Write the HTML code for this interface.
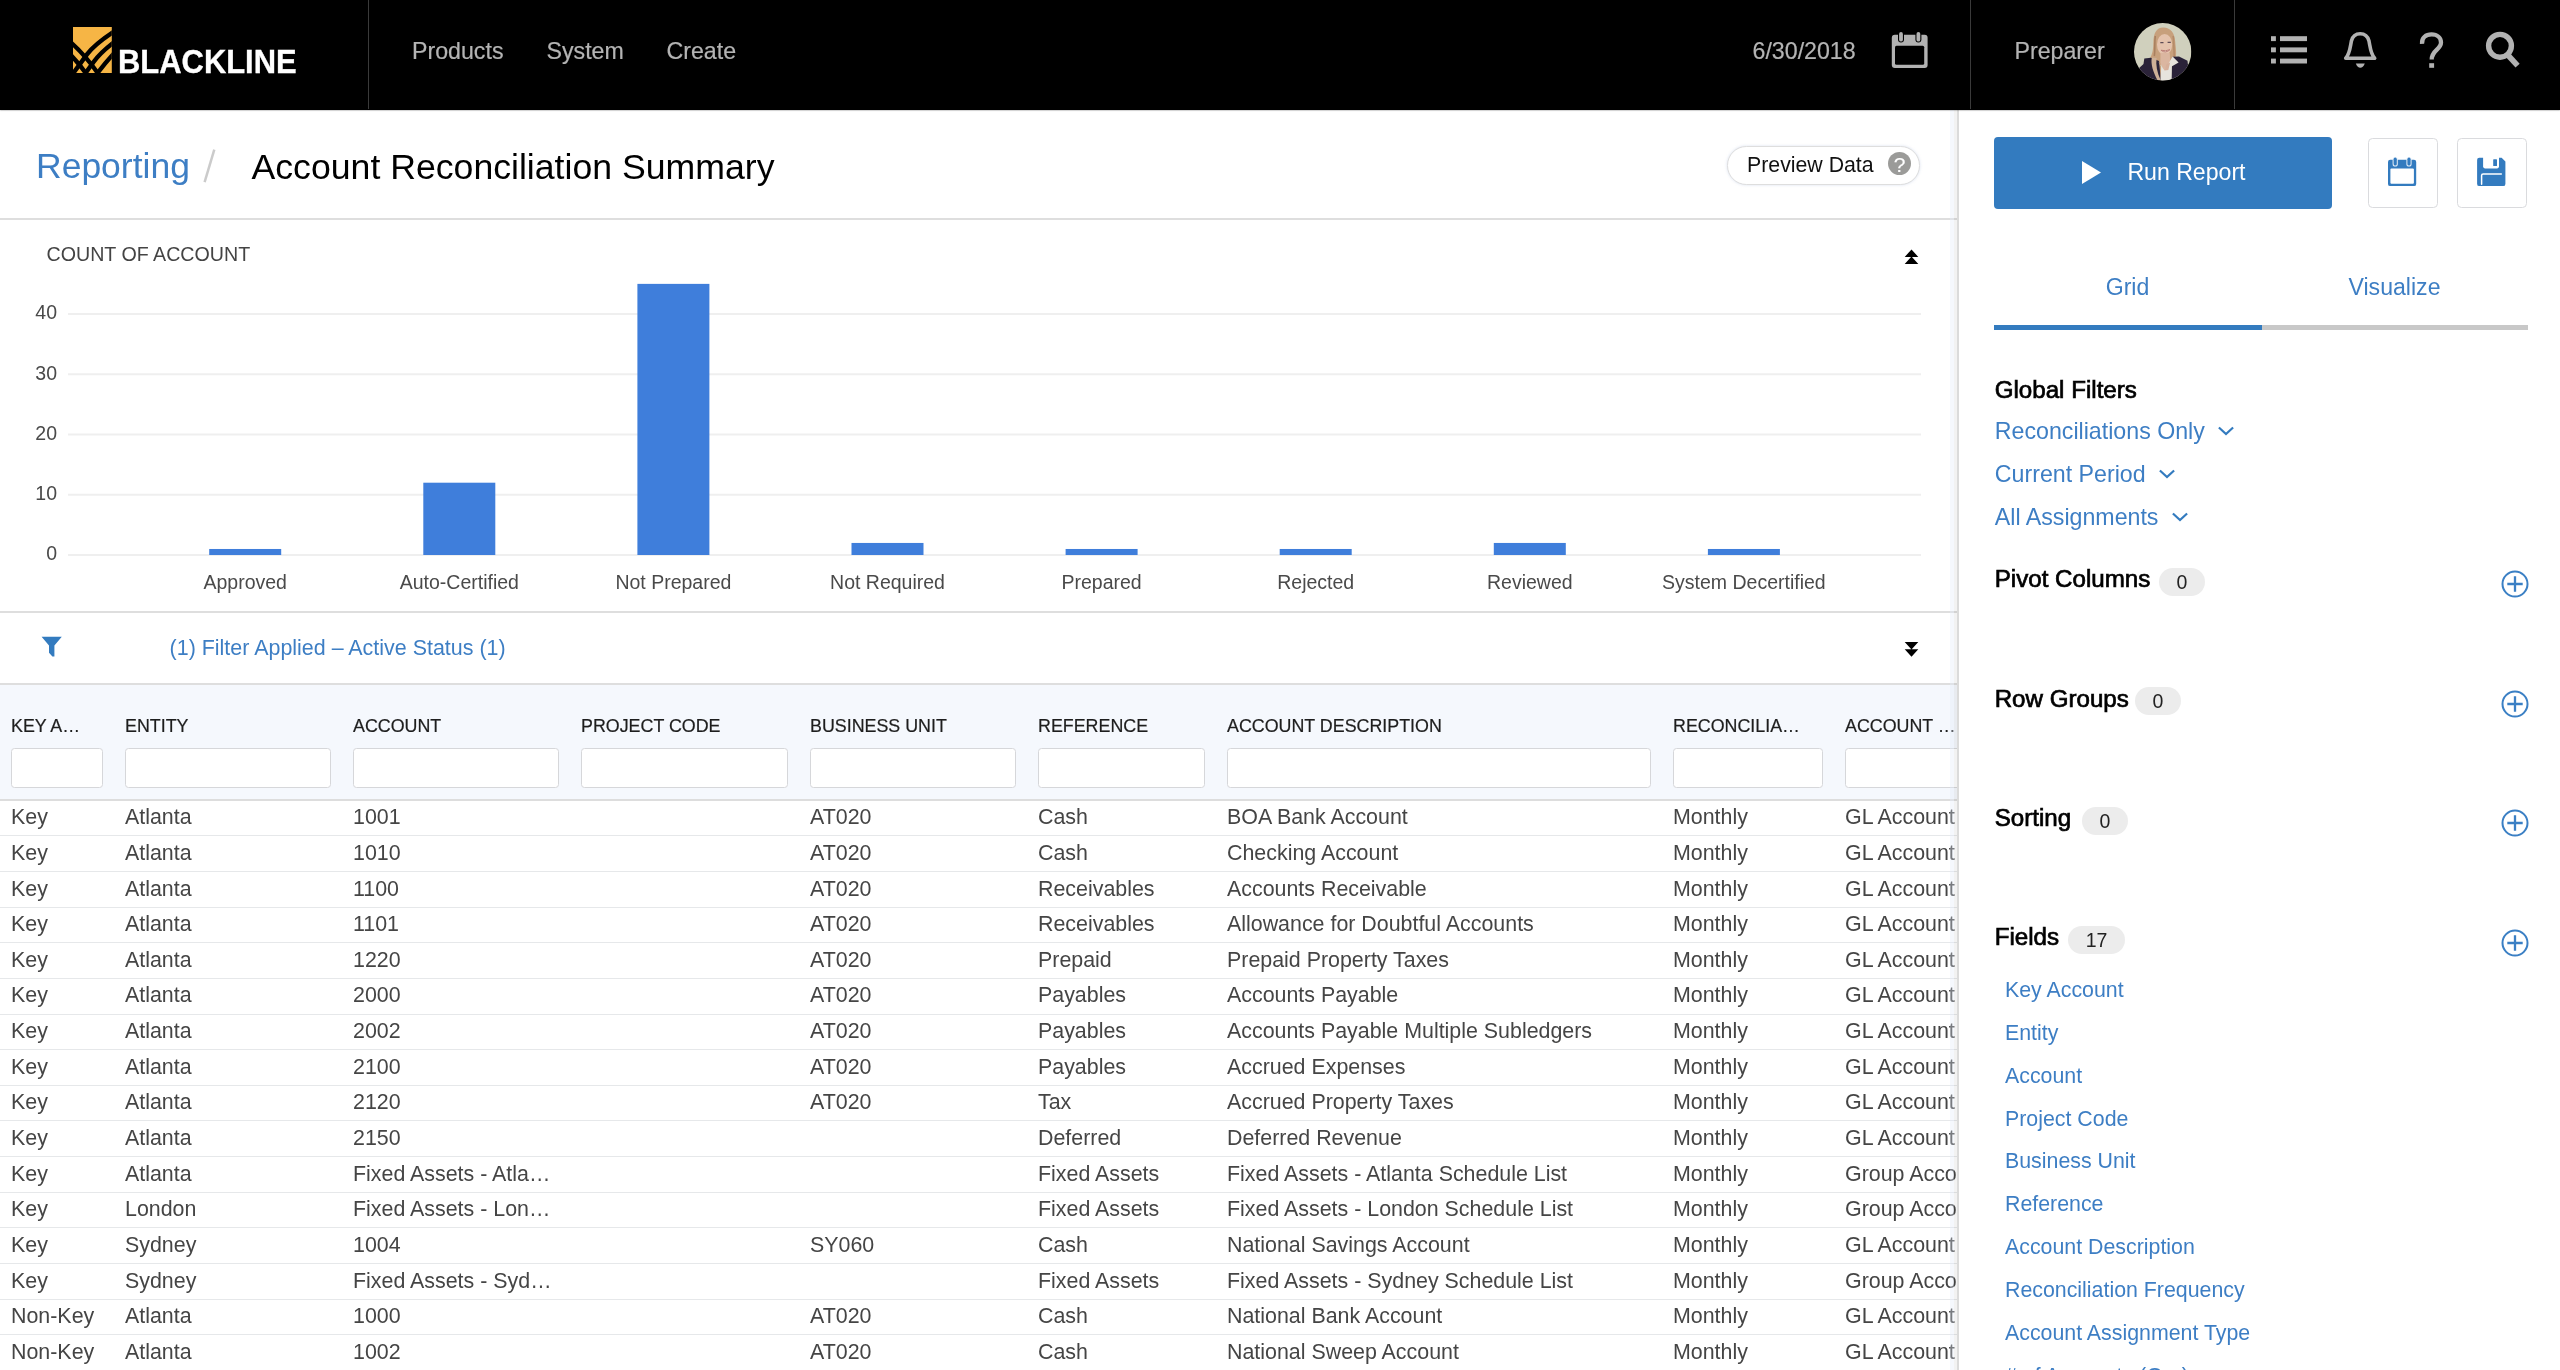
<!DOCTYPE html>
<html><head><meta charset="utf-8"><title>Account Reconciliation Summary</title>
<style>
*{box-sizing:border-box;margin:0;padding:0}
html,body{width:2560px;height:1370px;overflow:hidden;background:#fff;font-family:"Liberation Sans",sans-serif;}
body{position:relative}
.abs{position:absolute}
#top{position:absolute;left:0;top:0;width:2560px;height:110px;background:#000;z-index:5;box-shadow:0 .5px 1.5px rgba(0,0,0,.45)}
#top .div{position:absolute;top:0;width:1.6px;height:109px;background:#3a3a3a;margin-left:.2px}
#top .nav{position:absolute;top:37px;font-size:23.2px;line-height:28px;color:#b4b4b4;white-space:nowrap;-webkit-text-stroke:.2px #b4b4b4}
#top svg{position:absolute;overflow:visible}
#main{position:absolute;left:0;top:110px;width:1958px;height:1260px;background:#fff;overflow:hidden}
#main .in{position:absolute;left:0;top:-110px;width:1958px;height:1370px}
.bc1{position:absolute;left:36px;top:145.4px;font-size:35.5px;line-height:42px;color:#3d7ec4;white-space:nowrap}
.bcs{position:absolute;left:203.5px;top:145.5px;font-size:35.6px;line-height:42px;color:#cfcfcf}
.bc2{position:absolute;left:251.5px;top:145.6px;font-size:35.65px;line-height:42px;color:#000;white-space:nowrap}
.pill{position:absolute;left:1727.4px;top:146.2px;width:193px;height:38.8px;border:1.8px solid #dedede;border-radius:19.4px;background:#fff;box-shadow:0 0 3px rgba(150,170,210,.35)}
.pill span{position:absolute;left:18.6px;top:5.3px;font-size:21.3px;line-height:26px;color:#111;white-space:nowrap}
.pill i{position:absolute;left:159.8px;top:5.2px;width:23px;height:23px;border-radius:50%;background:#9b9b99;color:#fff;font-style:normal;font-size:21px;line-height:25.4px;text-align:center;-webkit-text-stroke:.15px #fff}
.hl{position:absolute;left:0;width:1958px;height:2px;background:#dedede}
.cap{position:absolute;left:46.5px;top:242.3px;font-size:19.65px;line-height:24px;color:#444;white-space:nowrap}
.ax{font-family:"Liberation Sans",sans-serif;font-size:19.5px;fill:#4a4a4a}
.flt{position:absolute;left:169.6px;top:634.7px;font-size:21.45px;line-height:26px;color:#3d7ec4;white-space:nowrap}
.thead{position:absolute;left:0;top:685px;width:1958px;height:115.6px;background:#f5f8fd;border-bottom:2px solid #dddddd}
.th{position:absolute;top:29.6px;font-size:17.85px;line-height:22px;color:#1e1e1e;-webkit-text-stroke:.2px #1e1e1e;white-space:nowrap;overflow:visible}
.inp{position:absolute;top:63px;height:40.4px;background:#fff;border:1.8px solid #d6d7da;border-radius:3.5px}
.tr{position:absolute;left:0;width:1958px;height:35.645px;border-bottom:1.5px solid #e6e8ea}
.tr span{position:absolute;top:3.6px;font-size:21.4px;line-height:26px;color:#454545;white-space:nowrap;overflow:hidden}
#side{position:absolute;left:1959px;top:110px;width:601px;height:1260px;background:#fff;overflow:hidden}
#side .in{position:absolute;left:-1959px;top:-110px;width:2560px;height:1370px}
.run{position:absolute;left:1994.4px;top:137.3px;width:337.4px;height:71.5px;background:#337bbf;border-radius:4px}
.run span{position:absolute;left:133px;top:21px;font-size:23.1px;line-height:28px;color:#fff;white-space:nowrap}
.ib{position:absolute;top:138px;width:70px;height:70px;border:1.7px solid #dadbde;border-radius:4.5px;background:#fff}
.tab{position:absolute;top:273px;font-size:23.1px;line-height:28px;color:#3d7ec4;white-space:nowrap;text-align:center;width:267px}
.sec{position:absolute;left:1994.7px;font-size:24.15px;line-height:30px;color:#000;white-space:nowrap;-webkit-text-stroke:0.7px #000}
.gf{position:absolute;left:1994.8px;font-size:23.2px;line-height:28px;color:#3d7ec4;white-space:nowrap}
.badge{position:absolute;height:28px;border-radius:14px;background:#ececec;font-size:19.5px;line-height:28px;color:#222;text-align:center}
.fld{position:absolute;left:2005px;font-size:21.35px;line-height:26px;color:#3d7ec4;white-space:nowrap}
.plus{position:absolute;left:2500.6px;width:28px;height:28px}
.chev{margin-left:13.5px;position:relative;top:-3px}
#wrap{position:absolute;left:0;top:0;width:2560px;height:1370px;will-change:transform}
.st1{position:absolute;left:1950px;top:110px;width:3.6px;height:1260px;background:rgba(225,235,250,.33)}
.st2{position:absolute;left:1953.6px;top:110px;width:3.7px;height:1260px;background:rgba(0,0,0,.05)}
.st3{position:absolute;left:1957.3px;top:110px;width:1.8px;height:1260px;background:#dbdbdb}

</style></head><body><div id="wrap">
<div id="top">
 <svg style="left:72.5px;top:27.2px" width="38.8" height="46" viewBox="0 0 38.8 46">
  <defs><clipPath id="lc"><rect x="0" y="0" width="38.8" height="46"/></clipPath></defs>
  <rect x="0" y="0" width="38.8" height="46" fill="#f6b545"/>
  <g clip-path="url(#lc)" fill="none" stroke="#000" stroke-width="4.4">
   <path d="M41,4.6 Q22,17 14,27.4 L0,46.6"/>
   <path d="M41,15.2 Q27,26 20.4,35.2 L12.2,46.6"/>
   <path d="M41,26.3 Q33,35 24.1,46.6"/>
   <path d="M-1.5,16 Q13,29 25.2,46.8"/>
   <path d="M-1.5,28.9 Q6,36.5 13.2,46.8"/>
  </g>
 </svg>
 <div class="abs" style="left:118.3px;top:42.3px;font-size:33px;line-height:40px;font-weight:bold;color:#fff;white-space:nowrap;transform-origin:0 0;transform:scaleX(.937);-webkit-text-stroke:.35px #fff">BLACKLINE</div>
 <div class="div" style="left:367.5px"></div>
 <div class="nav" style="left:412px">Products</div>
 <div class="nav" style="left:546.5px">System</div>
 <div class="nav" style="left:666.5px">Create</div>
 <div class="nav" style="left:1752.5px">6/30/2018</div>
 <!-- calendar -->
 <svg style="left:1888px;top:28px" width="44" height="44" viewBox="1888 28 44 44">
  <rect x="1891.8" y="34.8" width="35.8" height="33.2" rx="3" fill="#b2b2b2"/>
  <rect x="1895" y="45.7" width="29.2" height="19" rx="1.5" fill="#000"/>
  <rect x="1898" y="31.2" width="6" height="11.4" rx="3" fill="#000"/>
  <rect x="1915.4" y="31.2" width="6" height="11.4" rx="3" fill="#000"/>
  <rect x="1899.1" y="32" width="3.8" height="9.6" rx="1.9" fill="#b2b2b2"/>
  <rect x="1916.5" y="32" width="3.8" height="9.6" rx="1.9" fill="#b2b2b2"/>
 </svg>
 <div class="div" style="left:1969.5px"></div>
 <div class="nav" style="left:2014.5px">Preparer</div>
 <!-- avatar -->
 <svg style="left:2133.5px;top:23px" width="57.4" height="57.4" viewBox="0 0 57.4 57.4">
  <defs>
   <clipPath id="av"><circle cx="28.7" cy="28.7" r="28.7"/></clipPath>
   <filter id="bl" x="-10%" y="-10%" width="120%" height="120%"><feGaussianBlur stdDeviation="0.7"/></filter>
  </defs>
  <g clip-path="url(#av)">
   <rect width="57.4" height="57.4" fill="#d0d0bd"/>
   <g filter="url(#bl)">
    <path d="M29.3,4.6 C22,4.6 19.6,11 19.4,19 C19.2,27 18.5,32 14.5,37.5 L21,58 L27,58 L27,40 L40.5,36.5 C43.5,33 41.6,25 41.2,18.5 C40.7,10 36.5,4.6 29.3,4.6Z" fill="#c7a07c"/>
    <path d="M21.3,13 C20.3,20 21.3,27 20.3,33" stroke="#a9805f" stroke-width="1.6" fill="none"/>
    <path d="M39.2,13 C40,21 40,28 40.3,35" stroke="#b58b69" stroke-width="1.6" fill="none"/>
    <ellipse cx="30.6" cy="21.6" rx="7.6" ry="10.6" fill="#e4c3ad"/>
    <path d="M26.5,30 L35.8,30 L36.3,42 L30.5,48.5 L26.3,40Z" fill="#dbb6a0"/>
    <path d="M3,47 L9.5,41 L10.3,35.6 L17,34.8 L25,38 L27,58 L0,58Z" fill="#2a2438"/>
    <path d="M38.5,33.8 L45,33.6 L53.5,37.8 L56,58 L37.2,58Z" fill="#2a2438"/>
    <path d="M24,38.4 L30.5,47.5 L38.6,33.4 L44.6,39.4 L37.6,43.6 L37.6,58 L26.4,58 L27.3,43.8Z" fill="#e7e4dd"/>
    <path d="M30.5,47.5 L32.6,41 L36.2,39.6 L34.3,47Z" fill="#d7b09b"/>
    <path d="M17.8,34.6 C16.6,41 19,49 23.6,57.4 L26.8,57.4 C23,49.5 21.6,42 22.6,35Z" fill="#cdb098"/>
    <path d="M26.3,19.7 l3.2,0 M33.6,19.3 l3.2,0" stroke="#5d4c55" stroke-width="1.3" fill="none"/>
    <path d="M27,27.2 Q31.5,31 36,26.6 Q31.5,28.6 27,27.2Z" fill="#efe2dc" stroke="#bd8278" stroke-width="1"/>
   </g>
  </g>
 </svg>
 <div class="div" style="left:2233.5px"></div>
 <!-- list -->
 <svg style="left:2268px;top:30px" width="44" height="40" viewBox="2268 30 44 40">
  <g fill="#b2b2b2">
   <rect x="2271" y="36.2" width="4.9" height="4.9"/><rect x="2280" y="36.2" width="27" height="4.9"/>
   <rect x="2271" y="47.4" width="4.9" height="4.9"/><rect x="2280" y="47.4" width="27" height="4.9"/>
   <rect x="2271" y="58.6" width="4.9" height="4.9"/><rect x="2280" y="58.6" width="27" height="4.9"/>
  </g>
 </svg>
 <!-- bell -->
 <svg style="left:2340px;top:28px" width="42" height="44" viewBox="2340 28 42 44">
  <path d="M2345.7,58.2 C2349.8,54 2350.2,47 2351.4,41 C2352.7,36 2356,33.8 2360.2,33.8 C2364.4,33.8 2367.7,36 2369,41 C2370.2,47 2370.6,54 2374.7,58.2 Z" fill="none" stroke="#b2b2b2" stroke-width="3.6" stroke-linejoin="round"/>
  <path d="M2355.8,63.5 L2364.8,63.5 Q2363,67.8 2360.3,67.8 Q2357.6,67.8 2355.8,63.5Z" fill="#b2b2b2"/>
 </svg>
 <!-- question -->
 <svg style="left:2414px;top:28px" width="36" height="44" viewBox="2414 28 36 44">
  <path d="M2422,43.8 C2421.5,37.5 2426,34.4 2431.5,34.4 C2437.5,34.4 2441,38 2441,42.5 C2441,49.5 2431.7,50 2431.7,59.5" fill="none" stroke="#b2b2b2" stroke-width="4.3"/>
  <rect x="2429.2" y="63.2" width="4.9" height="4.6" fill="#b2b2b2"/>
 </svg>
 <!-- search -->
 <svg style="left:2480px;top:28px" width="44" height="44" viewBox="2480 28 44 44">
  <circle cx="2500" cy="45.8" r="11.4" fill="none" stroke="#b2b2b2" stroke-width="5.4"/>
  <path d="M2507.8,55 L2517.6,65.6" stroke="#b2b2b2" stroke-width="5.6" fill="none"/>
 </svg>
</div>
<div id="main"><div class="in">
<div class="bc1">Reporting</div><svg class="abs" style="left:200px;top:145px" width="20" height="42" viewBox="200 145 20 42"><path d="M214.3,149.6 L204.6,182.2" stroke="#cbcbcb" stroke-width="2.5" fill="none"/></svg><div class="bc2">Account Reconciliation Summary</div>
<div class="pill"><span>Preview Data</span><i>?</i></div>
<div class="hl" style="top:217.5px"></div>
<div class="cap">COUNT OF ACCOUNT</div>
<svg class="abs" style="left:1900px;top:245px" width="24" height="24" viewBox="1900 245 24 24"><path d="M1911.5,249.4 L1918.3,257 L1904.7,257Z M1911.5,256.6 L1918.3,264.1 L1904.7,264.1Z" fill="#000"/></svg>
<svg class="chart" width="1958" height="380" viewBox="0 0 1958 380" style="position:absolute;left:0;top:230px">
<rect x="68" y="324.00" width="1853" height="2" fill="#efefef"/>
<text x="57" y="330.40" text-anchor="end" class="ax">0</text>
<rect x="68" y="263.75" width="1853" height="2" fill="#efefef"/>
<text x="57" y="270.15" text-anchor="end" class="ax">10</text>
<rect x="68" y="203.50" width="1853" height="2" fill="#efefef"/>
<text x="57" y="209.90" text-anchor="end" class="ax">20</text>
<rect x="68" y="143.25" width="1853" height="2" fill="#efefef"/>
<text x="57" y="149.65" text-anchor="end" class="ax">30</text>
<rect x="68" y="83.00" width="1853" height="2" fill="#efefef"/>
<text x="57" y="89.40" text-anchor="end" class="ax">40</text>
<rect x="209.20" y="318.98" width="72" height="6.03" fill="#3f7edb"/>
<text x="245.20" y="358.80" text-anchor="middle" class="ax">Approved</text>
<rect x="423.30" y="252.70" width="72" height="72.30" fill="#3f7edb"/>
<text x="459.30" y="358.80" text-anchor="middle" class="ax">Auto-Certified</text>
<rect x="637.40" y="53.88" width="72" height="271.12" fill="#3f7edb"/>
<text x="673.40" y="358.80" text-anchor="middle" class="ax">Not Prepared</text>
<rect x="851.50" y="312.95" width="72" height="12.05" fill="#3f7edb"/>
<text x="887.50" y="358.80" text-anchor="middle" class="ax">Not Required</text>
<rect x="1065.60" y="318.98" width="72" height="6.03" fill="#3f7edb"/>
<text x="1101.60" y="358.80" text-anchor="middle" class="ax">Prepared</text>
<rect x="1279.70" y="318.98" width="72" height="6.03" fill="#3f7edb"/>
<text x="1315.70" y="358.80" text-anchor="middle" class="ax">Rejected</text>
<rect x="1493.80" y="312.95" width="72" height="12.05" fill="#3f7edb"/>
<text x="1529.80" y="358.80" text-anchor="middle" class="ax">Reviewed</text>
<rect x="1707.90" y="318.98" width="72" height="6.03" fill="#3f7edb"/>
<text x="1743.90" y="358.80" text-anchor="middle" class="ax">System Decertified</text>
</svg>
<div class="hl" style="top:611.1px"></div>
<svg class="abs" style="left:38px;top:632px" width="28" height="28" viewBox="38 632 28 28"><path d="M41.6,636.8 L61.8,636.8 L54.4,645.4 L54.4,656.5 L52.4,656.5 L49,652.8 L49,645.4Z" fill="#337bbf"/></svg>
<div class="flt">(1) Filter Applied – Active Status (1)</div>
<svg class="abs" style="left:1900px;top:638px" width="24" height="24" viewBox="1900 638 24 24"><path d="M1904.7,642 L1918.3,642 L1911.5,649.5Z M1904.7,649.2 L1918.3,649.2 L1911.5,656.7Z" fill="#000"/></svg>
<div class="hl" style="top:683px"></div>
<div class="thead">
<div class="th" style="left:11px;width:92px">KEY A…</div>
<div class="inp" style="left:11px;width:92px"></div>
<div class="th" style="left:125px;width:206px">ENTITY</div>
<div class="inp" style="left:125px;width:206px"></div>
<div class="th" style="left:353px;width:206px">ACCOUNT</div>
<div class="inp" style="left:353px;width:206px"></div>
<div class="th" style="left:581px;width:207px">PROJECT CODE</div>
<div class="inp" style="left:581px;width:207px"></div>
<div class="th" style="left:810px;width:206px">BUSINESS UNIT</div>
<div class="inp" style="left:810px;width:206px"></div>
<div class="th" style="left:1038px;width:167px">REFERENCE</div>
<div class="inp" style="left:1038px;width:167px"></div>
<div class="th" style="left:1227px;width:424px">ACCOUNT DESCRIPTION</div>
<div class="inp" style="left:1227px;width:424px"></div>
<div class="th" style="left:1673px;width:150px">RECONCILIA…</div>
<div class="inp" style="left:1673px;width:150px"></div>
<div class="th" style="left:1845px;width:154px">ACCOUNT …</div>
<div class="inp" style="left:1845px;width:154px"></div>
</div>
<div class="tr" style="top:800.65px">
<span style="left:11px;width:100px">Key</span>
<span style="left:125px;width:214px">Atlanta</span>
<span style="left:353px;width:214px">1001</span>
<span style="left:810px;width:214px">AT020</span>
<span style="left:1038px;width:175px">Cash</span>
<span style="left:1227px;width:432px">BOA Bank Account</span>
<span style="left:1673px;width:158px">Monthly</span>
<span style="left:1845px;width:162px">GL Account</span>
</div>
<div class="tr" style="top:836.29px">
<span style="left:11px;width:100px">Key</span>
<span style="left:125px;width:214px">Atlanta</span>
<span style="left:353px;width:214px">1010</span>
<span style="left:810px;width:214px">AT020</span>
<span style="left:1038px;width:175px">Cash</span>
<span style="left:1227px;width:432px">Checking Account</span>
<span style="left:1673px;width:158px">Monthly</span>
<span style="left:1845px;width:162px">GL Account</span>
</div>
<div class="tr" style="top:871.94px">
<span style="left:11px;width:100px">Key</span>
<span style="left:125px;width:214px">Atlanta</span>
<span style="left:353px;width:214px">1100</span>
<span style="left:810px;width:214px">AT020</span>
<span style="left:1038px;width:175px">Receivables</span>
<span style="left:1227px;width:432px">Accounts Receivable</span>
<span style="left:1673px;width:158px">Monthly</span>
<span style="left:1845px;width:162px">GL Account</span>
</div>
<div class="tr" style="top:907.59px">
<span style="left:11px;width:100px">Key</span>
<span style="left:125px;width:214px">Atlanta</span>
<span style="left:353px;width:214px">1101</span>
<span style="left:810px;width:214px">AT020</span>
<span style="left:1038px;width:175px">Receivables</span>
<span style="left:1227px;width:432px">Allowance for Doubtful Accounts</span>
<span style="left:1673px;width:158px">Monthly</span>
<span style="left:1845px;width:162px">GL Account</span>
</div>
<div class="tr" style="top:943.23px">
<span style="left:11px;width:100px">Key</span>
<span style="left:125px;width:214px">Atlanta</span>
<span style="left:353px;width:214px">1220</span>
<span style="left:810px;width:214px">AT020</span>
<span style="left:1038px;width:175px">Prepaid</span>
<span style="left:1227px;width:432px">Prepaid Property Taxes</span>
<span style="left:1673px;width:158px">Monthly</span>
<span style="left:1845px;width:162px">GL Account</span>
</div>
<div class="tr" style="top:978.88px">
<span style="left:11px;width:100px">Key</span>
<span style="left:125px;width:214px">Atlanta</span>
<span style="left:353px;width:214px">2000</span>
<span style="left:810px;width:214px">AT020</span>
<span style="left:1038px;width:175px">Payables</span>
<span style="left:1227px;width:432px">Accounts Payable</span>
<span style="left:1673px;width:158px">Monthly</span>
<span style="left:1845px;width:162px">GL Account</span>
</div>
<div class="tr" style="top:1014.52px">
<span style="left:11px;width:100px">Key</span>
<span style="left:125px;width:214px">Atlanta</span>
<span style="left:353px;width:214px">2002</span>
<span style="left:810px;width:214px">AT020</span>
<span style="left:1038px;width:175px">Payables</span>
<span style="left:1227px;width:432px">Accounts Payable Multiple Subledgers</span>
<span style="left:1673px;width:158px">Monthly</span>
<span style="left:1845px;width:162px">GL Account</span>
</div>
<div class="tr" style="top:1050.16px">
<span style="left:11px;width:100px">Key</span>
<span style="left:125px;width:214px">Atlanta</span>
<span style="left:353px;width:214px">2100</span>
<span style="left:810px;width:214px">AT020</span>
<span style="left:1038px;width:175px">Payables</span>
<span style="left:1227px;width:432px">Accrued Expenses</span>
<span style="left:1673px;width:158px">Monthly</span>
<span style="left:1845px;width:162px">GL Account</span>
</div>
<div class="tr" style="top:1085.81px">
<span style="left:11px;width:100px">Key</span>
<span style="left:125px;width:214px">Atlanta</span>
<span style="left:353px;width:214px">2120</span>
<span style="left:810px;width:214px">AT020</span>
<span style="left:1038px;width:175px">Tax</span>
<span style="left:1227px;width:432px">Accrued Property Taxes</span>
<span style="left:1673px;width:158px">Monthly</span>
<span style="left:1845px;width:162px">GL Account</span>
</div>
<div class="tr" style="top:1121.45px">
<span style="left:11px;width:100px">Key</span>
<span style="left:125px;width:214px">Atlanta</span>
<span style="left:353px;width:214px">2150</span>
<span style="left:1038px;width:175px">Deferred</span>
<span style="left:1227px;width:432px">Deferred Revenue</span>
<span style="left:1673px;width:158px">Monthly</span>
<span style="left:1845px;width:162px">GL Account</span>
</div>
<div class="tr" style="top:1157.10px">
<span style="left:11px;width:100px">Key</span>
<span style="left:125px;width:214px">Atlanta</span>
<span style="left:353px;width:214px">Fixed Assets - Atla…</span>
<span style="left:1038px;width:175px">Fixed Assets</span>
<span style="left:1227px;width:432px">Fixed Assets - Atlanta Schedule List</span>
<span style="left:1673px;width:158px">Monthly</span>
<span style="left:1845px;width:162px">Group Account</span>
</div>
<div class="tr" style="top:1192.74px">
<span style="left:11px;width:100px">Key</span>
<span style="left:125px;width:214px">London</span>
<span style="left:353px;width:214px">Fixed Assets - Lon…</span>
<span style="left:1038px;width:175px">Fixed Assets</span>
<span style="left:1227px;width:432px">Fixed Assets - London Schedule List</span>
<span style="left:1673px;width:158px">Monthly</span>
<span style="left:1845px;width:162px">Group Account</span>
</div>
<div class="tr" style="top:1228.39px">
<span style="left:11px;width:100px">Key</span>
<span style="left:125px;width:214px">Sydney</span>
<span style="left:353px;width:214px">1004</span>
<span style="left:810px;width:214px">SY060</span>
<span style="left:1038px;width:175px">Cash</span>
<span style="left:1227px;width:432px">National Savings Account</span>
<span style="left:1673px;width:158px">Monthly</span>
<span style="left:1845px;width:162px">GL Account</span>
</div>
<div class="tr" style="top:1264.04px">
<span style="left:11px;width:100px">Key</span>
<span style="left:125px;width:214px">Sydney</span>
<span style="left:353px;width:214px">Fixed Assets - Syd…</span>
<span style="left:1038px;width:175px">Fixed Assets</span>
<span style="left:1227px;width:432px">Fixed Assets - Sydney Schedule List</span>
<span style="left:1673px;width:158px">Monthly</span>
<span style="left:1845px;width:162px">Group Account</span>
</div>
<div class="tr" style="top:1299.68px">
<span style="left:11px;width:100px">Non-Key</span>
<span style="left:125px;width:214px">Atlanta</span>
<span style="left:353px;width:214px">1000</span>
<span style="left:810px;width:214px">AT020</span>
<span style="left:1038px;width:175px">Cash</span>
<span style="left:1227px;width:432px">National Bank Account</span>
<span style="left:1673px;width:158px">Monthly</span>
<span style="left:1845px;width:162px">GL Account</span>
</div>
<div class="tr" style="top:1335.33px">
<span style="left:11px;width:100px">Non-Key</span>
<span style="left:125px;width:214px">Atlanta</span>
<span style="left:353px;width:214px">1002</span>
<span style="left:810px;width:214px">AT020</span>
<span style="left:1038px;width:175px">Cash</span>
<span style="left:1227px;width:432px">National Sweep Account</span>
<span style="left:1673px;width:158px">Monthly</span>
<span style="left:1845px;width:162px">GL Account</span>
</div>
</div></div>
<div class="st1"></div><div class="st2"></div><div class="st3"></div>
<div id="side"><div class="in">
<div class="run"><svg class="abs" style="left:86px;top:22px" width="22" height="28" viewBox="0 0 22 28"><path d="M2,2 L21,13.5 L2,25Z" fill="#fff"/></svg><span>Run Report</span></div>
<div class="ib" style="left:2368px"><svg class="abs" style="left:16px;top:15px" width="34" height="34" viewBox="2386 155 34 34">
 <rect x="2389" y="160.7" width="28.2" height="26.4" rx="2.2" fill="#337bbf"/>
 <rect x="2391.4" y="169.5" width="23.5" height="15.2" rx="1" fill="#fff"/>
 <rect x="2393.6" y="158" width="5.2" height="9.6" rx="2.6" fill="#e8f0f8"/><rect x="2407.4" y="158" width="5.2" height="9.6" rx="2.6" fill="#e8f0f8"/>
 <rect x="2394.6" y="158.6" width="3.2" height="8" rx="1.6" fill="#337bbf"/><rect x="2408.4" y="158.6" width="3.2" height="8" rx="1.6" fill="#337bbf"/>
</svg></div>
<div class="ib" style="left:2457px"><svg class="abs" style="left:16px;top:15px" width="36" height="34" viewBox="2475 155 36 34">
 <path d="M2480.3,158.7 L2502.6,158.7 L2506.4,162.6 L2506.4,184.9 Q2506.4,187.1 2504.2,187.1 L2480.3,187.1 Q2478.1,187.1 2478.1,184.9 L2478.1,160.9 Q2478.1,158.7 2480.3,158.7Z" fill="#337bbf"/>
 <path d="M2484.1,158 L2500,158 L2500,167.6 Q2500,169.4 2498.2,169.4 L2485.9,169.4 Q2484.1,169.4 2484.1,167.6Z" fill="#fff"/>
 <rect x="2494.2" y="160.2" width="3.8" height="6.8" rx=".6" fill="#337bbf"/>
 <path d="M2502.3,175 L2484.2,175 Q2482.6,175 2482.6,176.6 L2482.6,185.3" fill="none" stroke="#fff" stroke-width="1.5" stroke-linecap="round"/>
</svg></div>
<div class="tab" style="left:1994px">Grid</div>
<div class="tab" style="left:2261px">Visualize</div>
<div class="abs" style="left:1994px;top:324.5px;width:534px;height:5px;background:#c8c8c8"></div>
<div class="abs" style="left:1994px;top:324.5px;width:268px;height:5px;background:#337bbf"></div>
<div class="sec" style="top:375px">Global Filters</div>
<div class="gf" style="top:417px">Reconciliations Only<svg class="chev" width="16" height="10" viewBox="0 0 16 10"><path d="M0.9,1.5 L8,8 L15.1,1.5" fill="none" stroke="#337bbf" stroke-width="2.2"/></svg></div>
<div class="gf" style="top:460px">Current Period<svg class="chev" width="16" height="10" viewBox="0 0 16 10"><path d="M0.9,1.5 L8,8 L15.1,1.5" fill="none" stroke="#337bbf" stroke-width="2.2"/></svg></div>
<div class="gf" style="top:503px">All Assignments<svg class="chev" width="16" height="10" viewBox="0 0 16 10"><path d="M0.9,1.5 L8,8 L15.1,1.5" fill="none" stroke="#337bbf" stroke-width="2.2"/></svg></div>
<div class="sec" style="top:564px">Pivot Columns</div><div class="badge" style="left:2159px;top:568px;width:46px">0</div>
<div class="sec" style="top:684px">Row Groups</div><div class="badge" style="left:2135px;top:687px;width:46px">0</div>
<div class="sec" style="top:803px">Sorting</div><div class="badge" style="left:2082px;top:807px;width:46px">0</div>
<div class="sec" style="top:922px">Fields</div><div class="badge" style="left:2068px;top:926px;width:57px">17</div>
<svg class="plus" style="top:570px" viewBox="0 0 28 28"><circle cx="14" cy="14" r="12.5" fill="none" stroke="#3a7fc4" stroke-width="2"/><path d="M14,6.3 V21.7 M6.3,14 H21.7" stroke="#3a7fc4" stroke-width="2.3" fill="none"/></svg>
<svg class="plus" style="top:689.5px" viewBox="0 0 28 28"><circle cx="14" cy="14" r="12.5" fill="none" stroke="#3a7fc4" stroke-width="2"/><path d="M14,6.3 V21.7 M6.3,14 H21.7" stroke="#3a7fc4" stroke-width="2.3" fill="none"/></svg>
<svg class="plus" style="top:809px" viewBox="0 0 28 28"><circle cx="14" cy="14" r="12.5" fill="none" stroke="#3a7fc4" stroke-width="2"/><path d="M14,6.3 V21.7 M6.3,14 H21.7" stroke="#3a7fc4" stroke-width="2.3" fill="none"/></svg>
<svg class="plus" style="top:928.5px" viewBox="0 0 28 28"><circle cx="14" cy="14" r="12.5" fill="none" stroke="#3a7fc4" stroke-width="2"/><path d="M14,6.3 V21.7 M6.3,14 H21.7" stroke="#3a7fc4" stroke-width="2.3" fill="none"/></svg>
<div class="fld" style="top:977.00px">Key Account</div>
<div class="fld" style="top:1019.87px">Entity</div>
<div class="fld" style="top:1062.74px">Account</div>
<div class="fld" style="top:1105.61px">Project Code</div>
<div class="fld" style="top:1148.48px">Business Unit</div>
<div class="fld" style="top:1191.35px">Reference</div>
<div class="fld" style="top:1234.22px">Account Description</div>
<div class="fld" style="top:1277.09px">Reconciliation Frequency</div>
<div class="fld" style="top:1319.96px">Account Assignment Type</div>
<div class="fld" style="top:1362.83px"># of Accounts (Grp)</div>
</div></div>
</div></body></html>
